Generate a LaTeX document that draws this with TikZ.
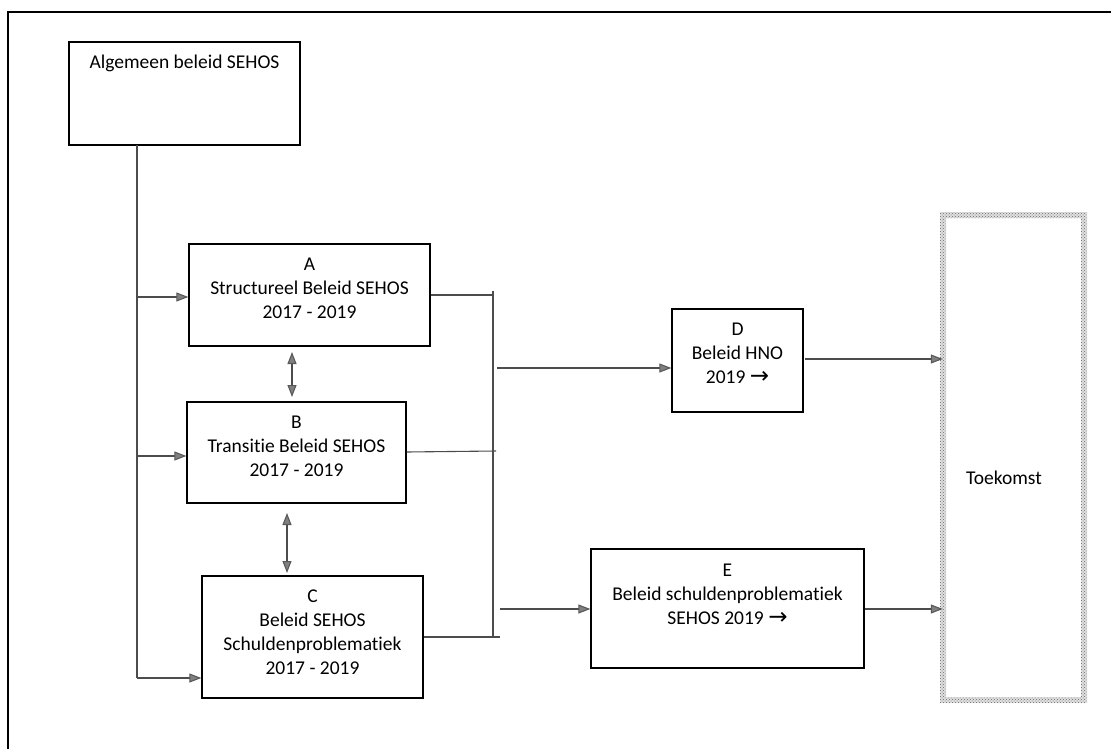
\documentclass[tikz,border=0pt]{standalone}
\usepackage{fontspec}
\setmainfont{Carlito}[RawFeature={-liga;-clig}]
\newfontfamily\arrowfont{DejaVu Sans}
\usetikzlibrary{arrows.meta,patterns}
\newcommand{\rarr}{{\arrowfont\fontsize{23}{24}\selectfont →}}
\begin{document}
\begin{tikzpicture}[x=1pt,y=-1pt,
  box/.style={draw=black,line width=1.3pt,rectangle,inner sep=0pt},
  boxtext/.style={anchor=north,inner sep=0pt,align=center,font=\fontsize{19.5}{24}\selectfont},
  conn/.style={draw=black!70,line width=1.1pt},
  arr/.style={conn,-{Triangle[length=12pt,width=9pt,fill=black!50,color=black!65]}},
  darr/.style={conn,{Triangle[length=12pt,width=9pt,fill=black!50,color=black!65]}-{Triangle[length=12pt,width=9pt,fill=black!50,color=black!65]}}
]
\useasboundingbox (0,0) rectangle (1111,749);
% outer frame (top and left only)
\draw[line width=1.6pt] (1111,12) -- (8,12) -- (8,749);

% boxes
\node[box,minimum width=231pt,minimum height=103pt] (alg) at (184.5,93.5) {};
\node[box,minimum width=241pt,minimum height=102pt] (A) at (309.5,295) {};
\node[box,minimum width=219pt,minimum height=101pt] (B) at (296.5,452.5) {};
\node[box,minimum width=221pt,minimum height=122pt] (C) at (312.5,637) {};
\node[box,minimum width=131pt,minimum height=103pt] (D) at (737.5,360.5) {};
\node[box,minimum width=273pt,minimum height=119pt] (E) at (727.5,608.5) {};
\node[inner sep=0pt,minimum width=141pt,minimum height=485pt] (T) at (1013.5,457.5) {};
% hatched frame of Toekomst
\fill[black!12,even odd rule]
  (940,212) rectangle (1087,703) (946,218) rectangle (1081,697);
\fill[pattern=crosshatch dots,pattern color=black!60,even odd rule]
  (940,212) rectangle (1087,703) (946,218) rectangle (1081,697);

% texts
\node[boxtext] (talg) at ([yshift=-10.2pt]alg.north) {\strut Algemeen beleid SEHOS};
\node[boxtext] (tA) at ([yshift=-10.2pt]A.north) {\strut A\\Structureel Beleid SEHOS\\2017 - 2019};
\node[boxtext] (tB) at ([yshift=-10.2pt]B.north) {\strut B\\Transitie Beleid SEHOS\\2017 - 2019};
\node[boxtext] (tC) at ([yshift=-10.2pt]C.north) {\strut C\\Beleid SEHOS\\Schuldenproblematiek\\2017 - 2019};
\node[boxtext] (tD) at ([yshift=-10.2pt]D.north) {\strut D\\Beleid HNO\\2019 \rarr};
\node[boxtext] (tE) at ([yshift=-11.5pt]E.north) {\strut E\\Beleid schuldenproblematiek\\SEHOS 2019 \rarr};
\node[font=\fontsize{19.5}{24}\selectfont,inner sep=0pt] (tT) at (1004,478) {Toekomst};

% left trunk
\coordinate (t0) at (137,145);
\coordinate (ta) at (137,297);
\coordinate (tb) at (137,456);
\coordinate (tc) at (137,678);
\draw[conn] (t0) -- (tc);
\draw[arr] (ta) -- (A.west |- ta);
\draw[arr] (tb) -- (B.west |- tb);
\draw[arr] (tc) -- (C.west |- tc);

% double arrows
\draw[darr] (292,352) -- (292,397);
\draw[darr] (287,513) -- (287,573);

% right bus
\coordinate (ba) at (493,291);
\coordinate (bc) at (493,637);
\draw[conn] (ba) -- (bc);
\draw[conn] (A.east |- 0,295) -- (493,295);
\draw[conn] (B.east |- 0,452) -- (496,451);
\draw[conn] (C.east |- bc) -- (500,637);
\coordinate (bd) at (497,368);
\coordinate (be) at (500,609);
\draw[arr] (bd) -- (D.west |- bd);
\draw[arr] (be) -- (E.west |- be);

% to Toekomst
\draw[arr] (805,359) -- (T.west |- 0,359);
\draw[arr] (E.east |- 0,609) -- (T.west |- 0,609);
\end{tikzpicture}
\end{document}
